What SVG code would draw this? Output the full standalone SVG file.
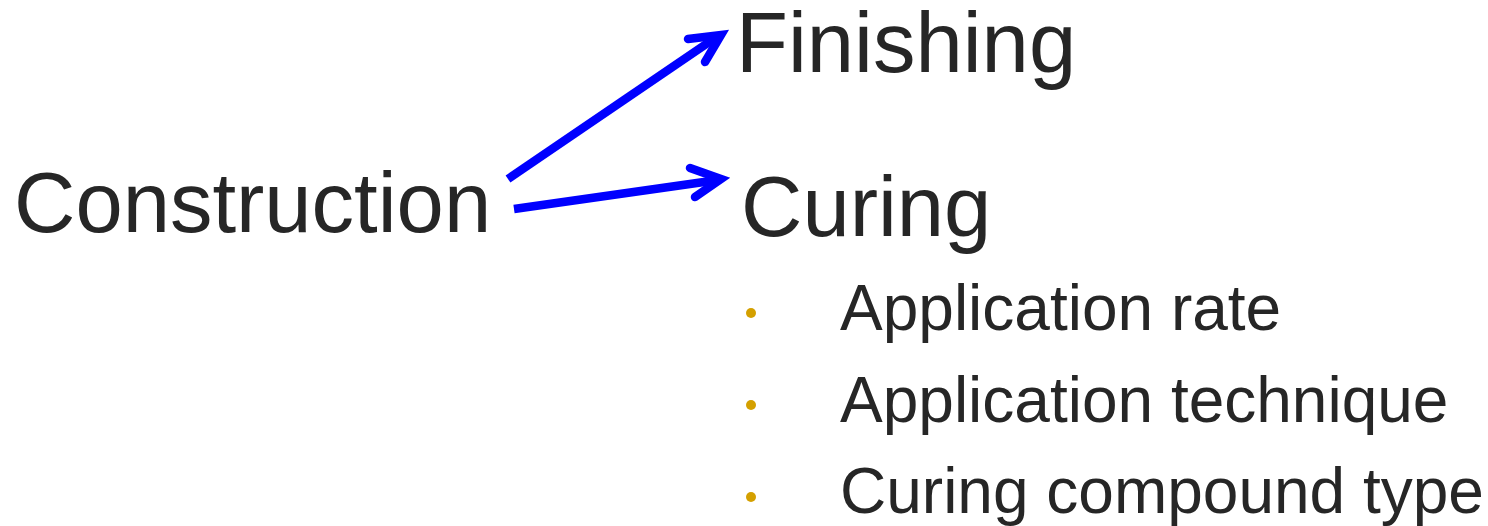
<svg xmlns="http://www.w3.org/2000/svg" width="1488" height="526" viewBox="0 0 1488 526">
<style>
text{font-family:"Liberation Sans",Arial,sans-serif;fill:#262626}
.big{font-size:85px}
.item{font-size:64px}
.shaft{stroke:#0000ff;stroke-width:8.5;fill:none;stroke-linecap:butt}
.head{stroke:#0000ff;stroke-width:8.5;fill:none;stroke-linecap:round;stroke-linejoin:miter;stroke-miterlimit:10}
.bullet{fill:#d4a000}
</style>
<rect width="1488" height="526" fill="#ffffff"/>
<g id="connectors">
<path class="shaft" d="M508,179 L718,36"/>
<path class="head" d="M688,39 L721,35 L705,62"/>
<path class="shaft" d="M514,209 L718,180"/>
<path class="head" d="M690,168 L721,179 L695,197"/>
</g>
<g id="construction"><text class="big" x="14" y="232">Construction</text></g>
<g id="finishing"><text class="big" x="736" y="72">Finishing</text></g>
<g id="curing"><text class="big" x="741" y="236">Curing</text></g>
<g id="item-rate"><circle class="bullet" cx="751" cy="313" r="5"/><text class="item" x="840" y="330">Application rate</text></g>
<g id="item-technique"><circle class="bullet" cx="751" cy="405" r="5"/><text class="item" x="840" y="422">Application technique</text></g>
<g id="item-type"><circle class="bullet" cx="751" cy="497" r="5"/><text class="item" x="840" y="513">Curing compound type</text></g>
</svg>
